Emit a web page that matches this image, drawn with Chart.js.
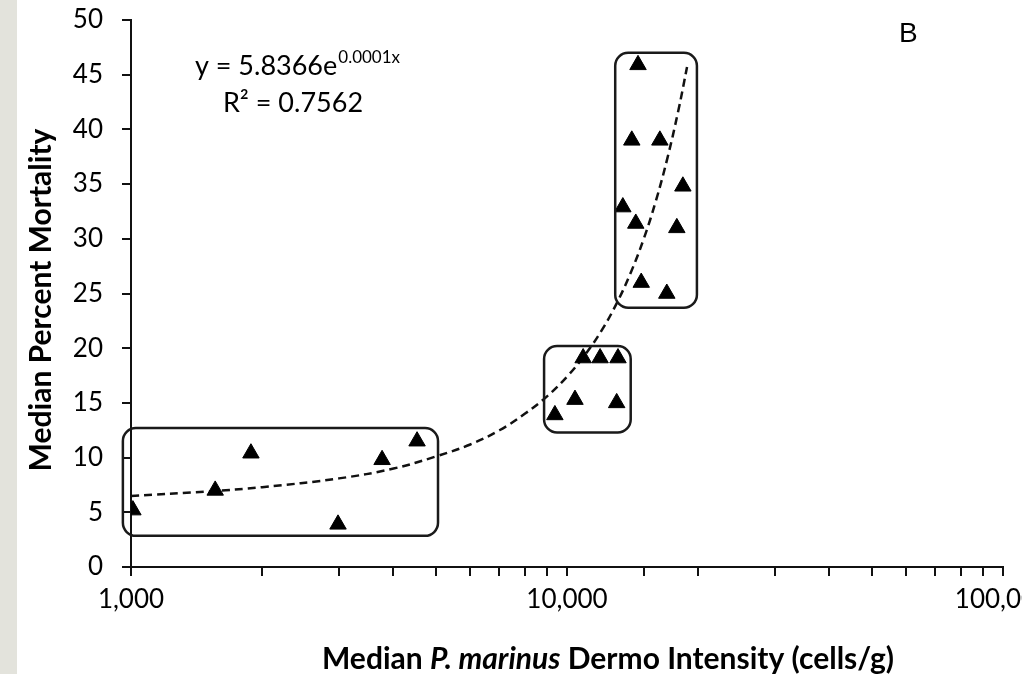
<!DOCTYPE html>
<html>
<head>
<meta charset="utf-8">
<script src="https://cdn.jsdelivr.net/npm/chart.js@4"></script>
<style>
  html, body { margin: 0; padding: 0; background: #fff; }
  #wrap { width: 1022px; height: 674px; position: relative; }
</style>
</head>
<body>
<div id="wrap"><canvas id="chart" width="1022" height="674"></canvas></div>
<script>
// observed points (cells/g, % mortality)
const dermoIntensity = [1010, 1560, 1884, 2984, 3766, 4530,
    9380, 10430, 10890, 11910, 13090, 13000,
    14550, 14080, 16330, 18440, 13430, 14380, 17860, 14800, 16940];
const mortality = [5.2, 7, 10.4, 3.9, 9.8, 11.5,
    13.9, 15.3, 19.1, 19.1, 19.1, 15,
    45.9, 39, 39, 34.8, 32.9, 31.4, 31, 26, 25];

// dashed exponential trend line
const trendX = [1000, 1500, 2000, 3000, 4000, 5000, 6000, 7000, 8000, 9000,
    10000, 11000, 12000, 13000, 14000, 15000, 16000, 17000, 18000, 18850];
const trendY = [6.5, 6.9, 7.3, 8.1, 9.0, 10.1, 11.2, 12.5, 14.0, 15.6,
    17.4, 19.4, 21.6, 24.1, 26.9, 30.0, 33.5, 37.4, 41.7, 45.7];

// grouping boxes [xMin, xMax, yMin, yMax]
const groupBoxes = [
    [958, 5060, 2.85, 12.7],
    [8860, 14000, 12.3, 20.2],
    [12900, 19860, 23.7, 47.0]
];

const xLabelTicks = [1000, 10000, 100000];
const fontFamily = 'Lato, "Open Sans", sans-serif';

const drawExtras = {
    id: 'drawExtras',
    beforeDraw(chart) {
        const ctx = chart.ctx;
        ctx.save();
        ctx.fillStyle = '#fff';
        ctx.fillRect(0, 0, chart.width, chart.height);
        ctx.fillStyle = '#e3e3dc';
        ctx.fillRect(0, 0, 17, chart.height);
        ctx.restore();
    },
    afterDatasetsDraw(chart) {
        const ctx = chart.ctx;
        const xs = chart.scales.x, ys = chart.scales.y;
        ctx.save();
        ctx.strokeStyle = '#1a1a1a';
        ctx.lineWidth = 2.5;
        groupBoxes.forEach(b => {
            const l = xs.getPixelForValue(b[0]), r = xs.getPixelForValue(b[1]);
            const t = ys.getPixelForValue(b[3]), btm = ys.getPixelForValue(b[2]);
            ctx.beginPath();
            ctx.roundRect(l, t, r - l, btm - t, 13);
            ctx.stroke();
        });

        ctx.fillStyle = '#000';
        // equation
        ctx.textBaseline = 'alphabetic';
        ctx.textAlign = 'left';
        ctx.font = '27px ' + fontFamily;
        const main = 'y = 5.8366e';
        const sup = '0.0001x';
        const w1 = ctx.measureText(main).width;
        ctx.font = '17px ' + fontFamily;
        const w2 = ctx.measureText(sup).width;
        let sx = 297 - (w1 + w2) / 2;
        ctx.font = '27px ' + fontFamily;
        ctx.fillText(main, sx, 75);
        ctx.font = '17px ' + fontFamily;
        ctx.fillText(sup, sx + w1 + 1, 63);
        ctx.font = '27px ' + fontFamily;
        ctx.textAlign = 'center';
        ctx.fillText('R² = 0.7562', 293, 112);

        // panel letter
        ctx.textAlign = 'left';
        ctx.font = '28px "Liberation Sans", Arial, sans-serif';
        ctx.fillText('B', 899, 42);

        // y axis title
        ctx.save();
        ctx.translate(51, 300);
        ctx.rotate(-Math.PI / 2);
        ctx.font = 'bold 30px ' + fontFamily;
        ctx.textAlign = 'center';
        ctx.fillText('Median Percent Mortality', 0, 0);
        ctx.restore();

        // x axis title with italic species name
        const parts = [
            ['Median ', 'bold 30px '],
            ['P. marinus', 'italic bold 30px '],
            [' Dermo Intensity (cells/g)', 'bold 30px ']
        ];
        let total = 0;
        parts.forEach(p => { ctx.font = p[1] + fontFamily; total += ctx.measureText(p[0]).width; });
        let px = 608 - total / 2;
        ctx.textAlign = 'left';
        parts.forEach(p => {
            ctx.font = p[1] + fontFamily;
            ctx.fillText(p[0], px, 669);
            px += ctx.measureText(p[0]).width;
        });
        ctx.restore();
    }
};

new Chart(document.getElementById('chart').getContext('2d'), {
    type: 'scatter',
    data: {
        datasets: [{
            label: 'Mortality',
            data: dermoIntensity.map((x, i) => ({ x: x, y: mortality[i] })),
            pointStyle: 'triangle',
            pointRadius: 9.5,
            backgroundColor: '#000',
            borderColor: '#000',
            borderWidth: 1
        }, {
            label: 'Trend',
            type: 'line',
            data: trendX.map((x, i) => ({ x: x, y: trendY[i] })),
            borderColor: '#111',
            borderWidth: 2.5,
            borderDash: [8, 5],
            pointRadius: 0,
            tension: 0.4,
            fill: false
        }]
    },
    options: {
        responsive: false,
        animation: false,
        layout: { padding: { left: 0, top: 20, right: 19, bottom: 0 } },
        plugins: { legend: { display: false }, tooltip: { enabled: false } },
        scales: {
            x: {
                type: 'logarithmic',
                min: 1000,
                max: 100000,
                border: { display: true, color: '#111', width: 2 },
                grid: { drawOnChartArea: false, drawTicks: true, tickLength: 9, color: '#111', lineWidth: 2 },
                ticks: {
                    autoSkip: false,
                    maxRotation: 0,
                    padding: 8,
                    color: '#000',
                    font: { family: fontFamily, size: 26 },
                    callback: v => xLabelTicks.includes(v) ? v.toLocaleString('en-US') : ''
                },
                afterFit(scale) {
                    scale.paddingLeft = 0;
                    scale.paddingRight = 0;
                    scale.height = 107;
                }
            },
            y: {
                min: 0,
                max: 50,
                border: { display: true, color: '#111', width: 2 },
                grid: { drawOnChartArea: false, drawTicks: true, tickLength: 9, color: '#111', lineWidth: 2 },
                ticks: {
                    stepSize: 5,
                    padding: 19,
                    color: '#000',
                    font: { family: fontFamily, size: 26 }
                },
                afterFit(scale) {
                    scale.paddingTop = 0;
                    scale.paddingBottom = 0;
                    scale.width = 131;
                }
            }
        }
    },
    plugins: [drawExtras]
});
</script>
</body>
</html>
